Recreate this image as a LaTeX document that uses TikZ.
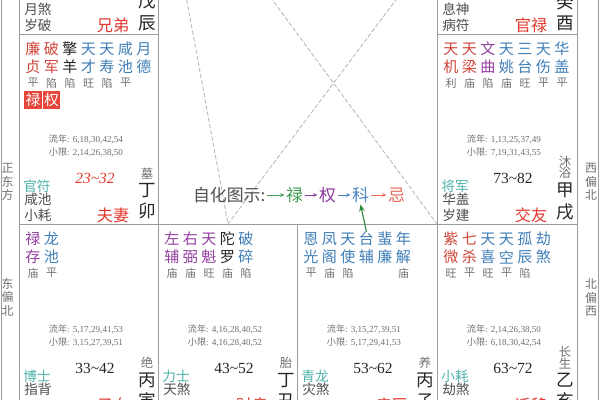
\documentclass[tikz,border=0pt]{standalone}
\usepackage{fontspec}
\setmainfont{Liberation Serif}
\newfontfamily\cjk{Noto Sans CJK SC}
\usetikzlibrary{arrows.meta}

\definecolor{gridgray}{HTML}{9C9C9C}
\definecolor{dashgray}{HTML}{B8B8B8}
\definecolor{wordgray}{HTML}{4E4E4E}
\definecolor{dimgray}{HTML}{707070}
\definecolor{shenteal}{HTML}{4FB3AA}
\definecolor{gongred}{HTML}{E2382E}
\definecolor{xred}{HTML}{D0463A}
\definecolor{xpurple}{HTML}{93409F}
\definecolor{xblue}{HTML}{3F7EB8}
\definecolor{xblack}{HTML}{262626}
\definecolor{hualu}{HTML}{3E9B4F}
\definecolor{huaquan}{HTML}{8B3A9C}
\definecolor{huake}{HTML}{4A86C0}
\definecolor{huaji}{HTML}{E8685A}
\definecolor{boxred}{HTML}{E6453A}
\definecolor{zihua}{HTML}{2F8C3E}

\tikzset{
  gridline/.style={draw=gridgray, line width=0.6pt},
  sanfang/.style={draw=dashgray, line width=0.6pt, dash pattern=on 3pt off 1.5pt},
  xing/.style={inner sep=0pt, font=\cjk\fontsize{10.7}{12}\selectfont},
  liang/.style={inner sep=0pt, text=dimgray, font=\cjk\fontsize{7.8}{9}\selectfont},
  sihua/.style={inner sep=0pt, minimum size=12.3pt, fill=boxred, text=white, font=\cjk\fontsize{10.5}{12}\selectfont},
  nianxian/.style={inner sep=0pt, text=dimgray, font=\fontsize{6.5}{7}\selectfont},
  daxian/.style={inner sep=0pt, text=xblack, font=\fontsize{11}{12}\selectfont},
  zhuangtai/.style={inner sep=0pt, anchor=south, align=center, text=dimgray, font=\cjk\fontsize{8.8}{8.2}\selectfont},
  ganzhi/.style={inner sep=0pt, anchor=north, align=center, text=xblack, font=\cjk\fontsize{12.5}{15}\selectfont},
  shen/.style={inner sep=0pt, text=shenteal, font=\cjk\fontsize{9.7}{11}\selectfont},
  sui/.style={inner sep=0pt, anchor=north west, align=left, text=wordgray, font=\cjk\fontsize{9.7}{11.3}\selectfont},
  gong/.style={inner sep=0pt, text=gongred, font=\cjk\fontsize{11.5}{13}\selectfont},
  fangwei/.style={inner sep=0pt, align=center, text=dimgray, font=\cjk\fontsize{8.5}{9.6}\selectfont},
  tuli/.style={inner sep=1pt, font=\cjk\fontsize{12}{13}\selectfont},
  huajian/.style={line width=0.6pt, -{Stealth[length=3pt, width=2.6pt]}},
}

% star columns of one palace: top char / bottom char / brightness / colour
\newcommand{\xingyao}[2]{%
  \foreach \shang/\xia/\du/\se [count=\i from 0] in {#2} {
    \node[xing, text=\se] (#1-\i-a) at (14+18.5*\i, 15) {\shang};
    \node[xing, text=\se] (#1-\i-b) at (14+18.5*\i, 33) {\xia};
    \node[liang] (#1-\i-c) at (14+18.5*\i, 49) {\du};
  }
}
% lower part of one palace
\newcommand{\gongxia}[9]{%
  \node[nianxian] (#1-ln) at (67,105) {{\cjk 流年}: #2};
  \node[nianxian] (#1-xx) at (67,118) {{\cjk 小限}: #3};
  \node[daxian] (#1-dx) at (76,144) {#4};
  \node[zhuangtai] (#1-zt) at (128,145) {#5};
  \node[ganzhi] (#1-gz) at (128,149) {#6};
  \node[shen] (#1-bs) at (18,152) {#7};
  \node[sui] (#1-ss) at (5,159) {#8};
  \node[gong] (#1-gw) at (94,181) {#9};
}

\begin{document}
\begin{tikzpicture}[x=0.025cm, y=-0.025cm]
  \useasboundingbox (0,0) rectangle (600,400);
  \fill[white] (0,0) rectangle (600,400);
  \clip (0,0) rectangle (600,400);

  % san fang lines
  \coordinate (zhongTL) at (158,-156);
  \coordinate (zhongBR) at (437,224);
  \coordinate (chou) at (228,224);
  \coordinate (youbian) at (437,-55);
  \draw[sanfang] (zhongTL) -- (chou) -- (youbian);
  \draw[sanfang] (zhongTL) -- (zhongBR);

  % grid
  \draw[gridline] (1.5,-10) -- (1.5,410) (598.5,-10) -- (598.5,410);
  \draw[gridline] (19,-10) -- (19,410) (158,-10) -- (158,410) (437,-10) -- (437,410) (577,-10) -- (577,410);
  \draw[gridline] (297,224) -- (297,410);
  \draw[gridline] (19,34) -- (158,34) (437,34) -- (577,34) (19,224) -- (577,224);

  % directions
  \node[fangwei] (zhengdong) at (7.5,182) {正\\东\\方};
  \node[fangwei] (dongbei) at (7.5,297) {东\\偏\\北};
  \node[fangwei] (xibei) at (591,182) {西\\偏\\北};
  \node[fangwei] (beixi) at (591,298) {北\\偏\\西};

  % chen
  \begin{scope}[shift={(19,-156)}]
    \node[sui] (chen-ss) at (5,159) {月煞\\岁破};
    \node[ganzhi] (chen-gz) at (128,149) {戊\\辰};
    \node[gong] (chen-gw) at (94,181) {兄弟};
  \end{scope}

  % you
  \begin{scope}[shift={(437,-156)}]
    \node[sui] (you-ss) at (5,159) {息神\\病符};
    \node[ganzhi] (you-gz) at (128,149) {癸\\酉};
    \node[gong] (you-gw) at (94,181) {官禄};
  \end{scope}

  % mao
  \begin{scope}[shift={(19,34)}]
    \xingyao{mao}{廉/贞/平/xred, 破/军/陷/xred, 擎/羊/陷/xblack, 天/才/旺/xblue, 天/寿/陷/xblue, 咸/池/平/xblue, 月/德/{}/xblue}
    \node[sihua] (mao-lu) at (14,66) {禄};
    \node[sihua] (mao-quan) at (32.5,66) {权};
    \gongxia{mao}{6,18,30,42,54}{2,14,26,38,50}{\textcolor{gongred}{\itshape 23\textasciitilde32}}{墓}{丁\\卯}{官符}{咸池\\小耗}{夫妻}
  \end{scope}

  % xu
  \begin{scope}[shift={(437,34)}]
    \xingyao{xu}{天/机/利/xred, 天/梁/庙/xred, 文/曲/陷/xpurple, 天/姚/庙/xblue, 三/台/旺/xblue, 天/伤/平/xblue, 华/盖/平/xblue}
    \gongxia{xu}{1,13,25,37,49}{7,19,31,43,55}{73\textasciitilde82}{沐\\浴}{甲\\戌}{将军}{华盖\\岁建}{交友}
  \end{scope}

  % yin
  \begin{scope}[shift={(19,224)}]
    \xingyao{yin}{禄/存/庙/xpurple, 龙/池/平/xblue}
    \gongxia{yin}{5,17,29,41,53}{3,15,27,39,51}{33\textasciitilde42}{绝}{丙\\寅}{博士}{指背}{子女}
  \end{scope}

  % chou
  \begin{scope}[shift={(158,224)}]
    \xingyao{chou}{左/辅/庙/xpurple, 右/弼/庙/xpurple, 天/魁/旺/xpurple, 陀/罗/庙/xblack, 破/碎/陷/xblue}
    \gongxia{chou}{4,16,28,40,52}{4,16,28,40,52}{43\textasciitilde52}{胎}{丁\\丑}{力士}{天煞}{财帛}
  \end{scope}

  % zi
  \begin{scope}[shift={(297,224)}]
    \xingyao{zi}{恩/光/平/xblue, 凤/阁/庙/xblue, 天/使/陷/xblue, 台/辅/{}/xblue, 蜚/廉/{}/xblue, 年/解/庙/xblue}
    \gongxia{zi}{3,15,27,39,51}{5,17,29,41,53}{53\textasciitilde62}{养}{丙\\子}{青龙}{灾煞}{疾厄}
  \end{scope}

  % hai
  \begin{scope}[shift={(437,224)}]
    \xingyao{hai}{紫/微/旺/xred, 七/杀/平/xred, 天/喜/旺/xblue, 天/空/平/xblue, 孤/辰/陷/xblue, 劫/煞/{}/xblue}
    \gongxia{hai}{2,14,26,38,50}{6,18,30,42,54}{63\textasciitilde72}{长\\生}{乙\\亥}{小耗}{劫煞}{迁移}
  \end{scope}

  % legend
  \node[tuli, text=wordgray, anchor=east] (tuli) at (267,195) {自化图示:};
  \node[tuli, text=hualu] (lu) at (294.5,195) {禄};
  \node[tuli, text=huaquan] (quan) at (327.5,195) {权};
  \node[tuli, text=huake] (ke) at (360.5,195) {科};
  \node[tuli, text=huaji] (ji) at (396.5,195) {忌};
  \draw[huajian, hualu] (tuli.east) -- (lu.west);
  \draw[huajian, huaquan] (lu.east) -- (quan.west);
  \draw[huajian, huake] (quan.east) -- (ke.west);
  \draw[huajian, huaji] (ke.east) -- (ji.west);

  % self transform of tai fu
  \draw[zihua, line width=0.8pt, -{Stealth[length=5pt, width=4pt]}] (zi-3-a.north) -- (ke.south);
\end{tikzpicture}
\end{document}
